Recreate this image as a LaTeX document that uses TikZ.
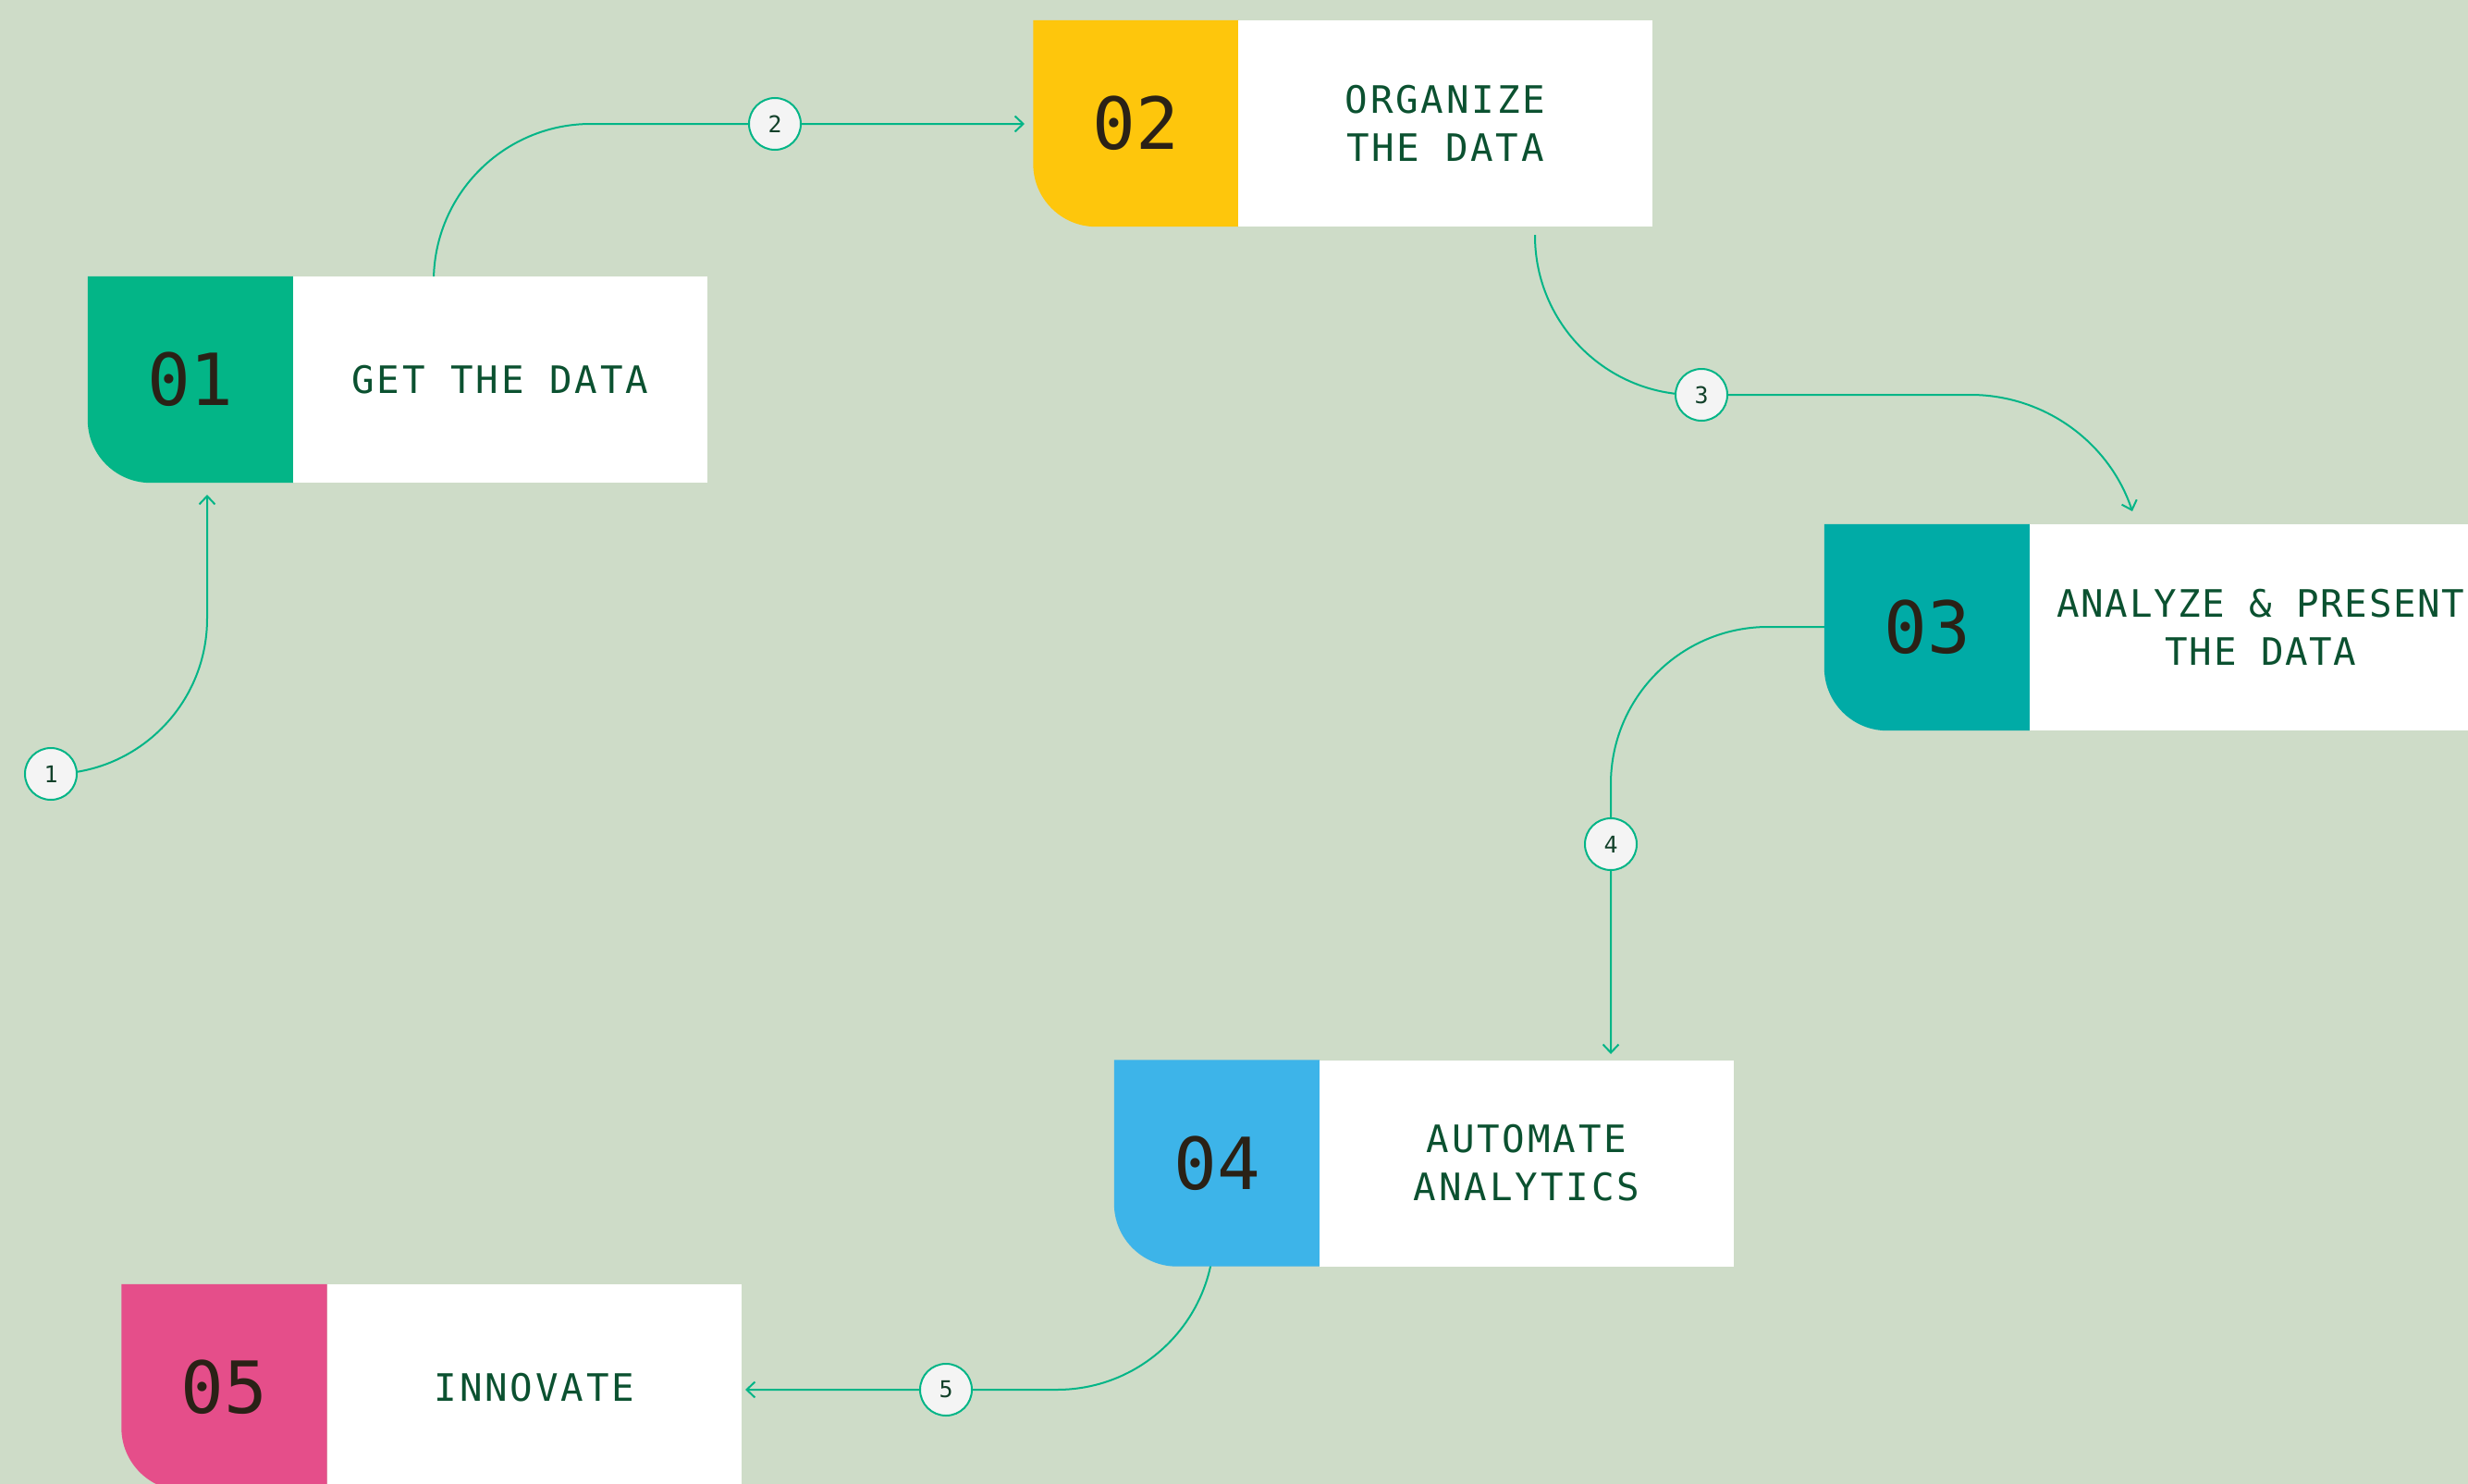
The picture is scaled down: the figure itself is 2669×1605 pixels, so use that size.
\documentclass[tikz,border=0pt]{standalone}
\usepackage{fontspec}
\usetikzlibrary{arrows.meta,calc}
\newfontfamily\numff{DejaVu Sans Mono}
\newfontfamily\labff{DejaVu Sans Mono}[LetterSpace=7]
\newfontfamily\labtightff{DejaVu Sans Mono}[LetterSpace=4]
\definecolor{bgcol}{HTML}{CEDCC8}
\definecolor{cgreen}{HTML}{03B587}
\definecolor{cyellow}{HTML}{FEC60C}
\definecolor{cteal}{HTML}{00ABA6}
\definecolor{cblue}{HTML}{3DB4E9}
\definecolor{cpink}{HTML}{E54E8A}
\definecolor{txtgreen}{HTML}{0B5130}
\definecolor{numdark}{HTML}{2A2116}
\definecolor{circfill}{HTML}{F4F4F4}
\definecolor{circtxt}{HTML}{12412A}
\pgfdeclarelayer{bgl}
\pgfdeclarelayer{lines}
\pgfdeclarelayer{boxes}
\pgfsetlayers{bgl,lines,boxes,main}
\tikzset{
  numbox/.style={rectangle, minimum width=222bp, minimum height=223bp, inner sep=0pt,
    font=\numff\fontsize{78}{80}\selectfont, text=numdark},
  labbox/.style={rectangle, fill=white, minimum width=448bp, minimum height=223bp, inner sep=0pt,
    align=center, font=\labff\fontsize{41}{52}\selectfont, text=txtgreen},
  stepcirc/.style={circle, minimum size=56bp, inner sep=0pt, fill=circfill, draw=cgreen,
    line width=2bp, font=\numff\fontsize{25}{25}\selectfont, text=circtxt},
  conn/.style={draw=cgreen, line width=2bp, rounded corners=170bp,
    -{Straight Barb[length=9bp,width=17bp,line width=2bp]}},
}
\newcommand{\cornerfill}[2]{%
  \fill[#1] (#2.north west) -- (#2.north east) -- (#2.south east)
    -- ([xshift=68bp]#2.south west) arc[start angle=90,end angle=180,radius=68] -- cycle;}
\begin{document}
\begin{tikzpicture}[x=1bp,y=-1bp]
\useasboundingbox (0,0) rectangle (2669,1605);
\begin{pgfonlayer}{bgl}
\fill[bgcol] (0,0) rectangle (2669,1605);
\end{pgfonlayer}
% boxes
\node[numbox] (k1) at (206,410.5) {01};
\node[labbox] (w1) at (541,410.5) {GET THE DATA};
\node[numbox] (k2) at (1228.5,133.5) {02};
\node[labbox] (w2) at (1563,133.5) {ORGANIZE\\THE DATA};
\node[numbox] (k3) at (2084,678.5) {03};
\node[labbox, minimum width=500bp, font=\labtightff\fontsize{41}{52}\selectfont] (w3) at (2445,678.5) {ANALYZE \& PRESENT\\THE DATA};
\node[numbox] (k4) at (1316,1258) {04};
\node[labbox] (w4) at (1651,1258) {AUTOMATE\\ANALYTICS};
\node[numbox] (k5) at (242.5,1500.5) {05};
\node[labbox] (w5) at (578,1500.5) {INNOVATE};
\begin{pgfonlayer}{boxes}
\cornerfill{cgreen}{k1}
\cornerfill{cyellow}{k2}
\cornerfill{cteal}{k3}
\cornerfill{cblue}{k4}
\cornerfill{cpink}{k5}
\end{pgfonlayer}
% step circles
\node[stepcirc] (n1) at (55,837) {1};
\node[stepcirc] (n2) at (838,134) {2};
\node[stepcirc] (n3) at (1840,427) {3};
\node[stepcirc] (n4) at (1742,913) {4};
\node[stepcirc] (n5) at (1023,1503) {5};
% connector ends
\coordinate (t1) at (224,535);
\coordinate (s2) at (469,306);
\coordinate (t2) at (1108,134);
\coordinate (s3) at (1660,254);
\coordinate (m3) at (2131,427);
\coordinate (s4) at (1973,678);
\coordinate (t4) at (1742,1140);
\coordinate (s5) at (1313,1333);
\coordinate (t5) at (806,1503);
\begin{pgfonlayer}{lines}
\draw[conn, rounded corners=168bp] (n1.center) -| (t1);
\draw[conn] (s2) |- (t2);
\draw[draw=cgreen, line width=2bp, rounded corners=172bp] (s3) |- (n3.center);
\draw[conn, sharp corners] (n3.center) -- (m3) arc[start angle=270,end angle=341.5,radius=184.5];
\draw[conn] (s4) -| (t4);
\draw[conn] (s5) |- (t5);
\end{pgfonlayer}
\end{tikzpicture}
\end{document}
